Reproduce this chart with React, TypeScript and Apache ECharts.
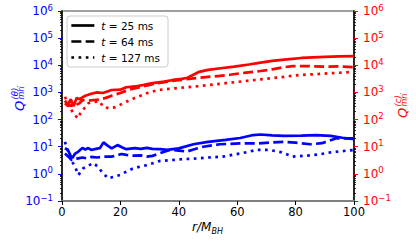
import React, { useEffect, useRef } from "react";
import * as echarts from "echarts";

// ---- data (Q values vs r / M_BH) ----
const rRed25 = [1,2,3,4,5,6,8,10,12,14,17,20,22,25,28,31,35,38,41,43,45,47,50,55,59,64,68,72,77,82,86,90,95,100];
const qRed25 = [500,355,560,316,630,560,760,890,1000,955,1230,1260,1550,1660,1900,2190,2510,2880,3160,3470,4470,5750,6760,7940,8910,10700,12600,14500,16600,18600,19500,20400,21400,21900];

const rRed64 = [1,2,3,4,5,6,7,9,11,13,15,17,20,23,27,31,36,40,45,50,54,58,63,68,72,76,79,84,90,95,100];
const qRed64 = [400,316,355,295,355,400,525,500,525,550,630,760,955,1260,1580,2000,2510,2820,3310,3720,4070,4570,5370,6170,7080,8510,9330,9330,8910,9120,8510];

const rRed127 = [1,2,3,4,5,5.6,6.5,7.5,9,11,13,14,16,18,20,22,25,29,33,38,45,50,56,62,68,75,81,88,94,100];
const qRed127 = [690,400,250,160,126,112,200,250,400,450,460,295,263,282,355,457,630,933,1230,1410,1620,1860,2190,2570,3020,3630,4370,4790,5250,5750];

const rBlue25 = [1,2,3,3.5,4.5,5.5,7,8,9,10,12,13,14.2,15.5,17,19,20.5,22,25,27,29,31,33.6,36,40,45,50,56,61,65.5,68,72,76,82,87,92,96,100];
const qBlue25 = [8.9,7.6,4.5,3.8,5.6,6.5,8.9,7.9,8.9,7.6,8.5,8.9,14.5,11.2,8.7,11.5,9.5,8.1,8.9,8.3,9.1,8.3,8.1,7.6,8.7,12.3,15.1,17.8,20.9,26.9,28.2,26.3,25.1,25.7,26.9,25.1,21.4,19.1];

const rBlue64 = [1,2,3.3,4.5,5.5,7,8.5,10,12,14,17,20.4,22,24.4,27,29,31,33.6,37,40,42.7,45,48.4,54,61,66.7,72,76,80,85,89,94,100];
const qBlue64 = [5.6,4.5,3.2,3.5,3.7,4.0,3.7,4.2,4.0,4.3,4.3,5.4,5.0,4.7,4.8,4.3,4.6,5.8,7.6,7.2,6.6,7.9,10,12.3,13.2,13.2,14.5,15.1,14.1,12.3,13.5,20.4,20.4];

const rBlue127 = [1,2,2.7,3.5,4.5,5.6,7.3,9,10.7,12.4,14,15.9,18,19.9,22,24.4,29,33.6,37,42,46,50,55,61,66.7,71,75,79,84,88,92,96,100];
const qBlue127 = [15.1,7.1,4.3,2.8,1.8,0.91,1.6,2.0,2.5,1.8,1.05,0.68,0.79,0.91,1.2,1.6,2.1,3.0,3.2,3.5,3.7,4.0,4.3,5.6,7.6,7.6,6.3,4.3,4.7,5.2,6.2,6.9,7.6];

const legendNames = ["t = 25 ms", "t = 64 ms", "t = 127 ms"];
const xTicks = { min: 0, max: 100, interval: 20 };
const yRange = { min: 0.1, max: 1e6 };

const FONT = "DejaVu Sans";
const RED = "#ff0000";
const BLUE = "#0000ff";
const LW = 2.7;
const DASH = [10, 4.3];
const DOT = [2.7, 4.5];

const zip = (xs: number[], ys: number[]) => xs.map((x, i) => [x, ys[i]]);

const logLabel = (v: number) => {
  const e = Math.round(Math.log10(v));
  const s = e < 0 ? "\u2212" + Math.abs(e) : String(e);
  return `{b|10}{s|${s}}`;
};

const labelRich = (color: string) => ({
  b: { fontSize: 12, lineHeight: 16, color, fontFamily: FONT },
  s: { fontSize: 8.5, lineHeight: 6, verticalAlign: "top", color, fontFamily: FONT },
});

const yAxisBase = (color: string, position: "left" | "right") => ({
  type: "log",
  logBase: 10,
  min: yRange.min,
  max: yRange.max,
  position,
  axisLine: { show: true, lineStyle: { color: "#000", width: 1.5 } },
  axisTick: { show: true, length: 4, lineStyle: { color, width: 1 } },
  minorTick: { show: true, splitNumber: 9, length: 2, lineStyle: { color: "#000", width: 0.8 } },
  splitLine: { show: false },
  minorSplitLine: { show: false },
  axisLabel: {
    margin: 9,
    formatter: logLabel,
    rich: labelRich(color),
  },
});

const mkSeries = (name: string, xs: number[], ys: number[], color: string, dash: any, yAxisIndex: number) => ({
  name,
  type: "line",
  data: zip(xs, ys),
  yAxisIndex,
  symbol: "none",
  showSymbol: false,
  lineStyle: { color, width: LW, type: dash, cap: "butt" },
  itemStyle: { color },
  z: 3,
});

const axisTitle = (x: number, y: number, color: string, sup: string) => ({
  type: "group",
  x,
  y,
  rotation: Math.PI / 2,
  children: [
    {
      type: "text",
      x: 0,
      y: 0,
      style: { text: "Q", fill: color, font: `italic 13px '${FONT}'`, align: "left", verticalAlign: "middle" },
    },
    {
      type: "text",
      x: 11.5,
      y: -3.6,
      style: { text: sup, fill: color, font: `italic 8.5px '${FONT}'`, align: "left", verticalAlign: "middle" },
    },
    {
      type: "text",
      x: 11.5,
      y: 2.6,
      style: { text: "mri", fill: color, font: `italic 8px '${FONT}'`, align: "left", verticalAlign: "middle" },
    },
  ],
});

export default function App() {
  const ref = useRef<HTMLDivElement>(null);
  useEffect(() => {
    if (!ref.current) return;
    const chart = echarts.init(ref.current, null, { renderer: "svg" });
    const option: any = {
      animation: false,
      backgroundColor: "#ffffff",
      grid: {
        left: 62,
        right: 62,
        top: 11,
        bottom: 40,
        show: true,
        borderColor: "#808080",
        borderWidth: 1.5,
        backgroundColor: "transparent",
      },
      legend: {
        data: legendNames,
        orient: "vertical",
        left: 67,
        top: 16,
        padding: [4, 8, 4, 3],
        itemGap: 5,
        itemWidth: 23,
        itemHeight: 10,
        backgroundColor: "#ffffff",
        borderColor: "#cccccc",
        borderWidth: 1,
        borderRadius: 3,
        selectedMode: false,
        itemStyle: { opacity: 0, borderWidth: 0 },
        lineStyle: { width: LW, cap: "butt" },
        formatter: (n: string) => n.replace("t", "{i|t}"),
        textStyle: {
          fontSize: 10.5,
          fontFamily: FONT,
          color: "#000",
          padding: [0, 0, 0, 2],
          rich: { i: { fontStyle: "italic", fontSize: 10.5, fontFamily: FONT, color: "#000" } },
        },
      },
      xAxis: {
        type: "value",
        min: xTicks.min,
        max: xTicks.max,
        interval: xTicks.interval,
        axisLine: { show: true, lineStyle: { color: "#808080", width: 2 } },
        axisTick: { show: true, length: 4, lineStyle: { color: "#000" } },
        axisLabel: { color: "#000", fontSize: 11.5, fontFamily: FONT, margin: 5 },
        splitLine: { show: false },
      },
      yAxis: [yAxisBase(BLUE, "left"), yAxisBase(RED, "right")],
      series: [
        mkSeries("red25", rRed25, qRed25, RED, "solid", 1),
        mkSeries("red64", rRed64, qRed64, RED, DASH, 1),
        mkSeries("red127", rRed127, qRed127, RED, DOT, 1),
        mkSeries("blue25", rBlue25, qBlue25, BLUE, "solid", 0),
        mkSeries("blue64", rBlue64, qBlue64, BLUE, DASH, 0),
        mkSeries("blue127", rBlue127, qBlue127, BLUE, DOT, 0),
        mkSeries(legendNames[0], [], [], "#000", "solid", 0),
        mkSeries(legendNames[1], [], [], "#000", DASH, 0),
        mkSeries(legendNames[2], [], [], "#000", DOT, 0),
      ],
      graphic: [
        axisTitle(19, 111, BLUE, "(\u03b8)"),
        axisTitle(402, 118, RED, "(c)"),
        {
          type: "text",
          x: 192,
          y: 227,
          style: { text: "r/M", fill: "#000", font: `italic 12px '${FONT}'`, align: "left", verticalAlign: "middle" },
        },
        {
          type: "text",
          x: 211.5,
          y: 231.5,
          style: { text: "BH", fill: "#000", font: `italic 8px '${FONT}'`, align: "left", verticalAlign: "middle" },
        },
      ],
    };
    chart.setOption(option);
    return () => chart.dispose();
  }, []);
  return <div ref={ref} style={{ position: "absolute", left: 0, top: 0, width: 416, height: 241 }} />;
}
